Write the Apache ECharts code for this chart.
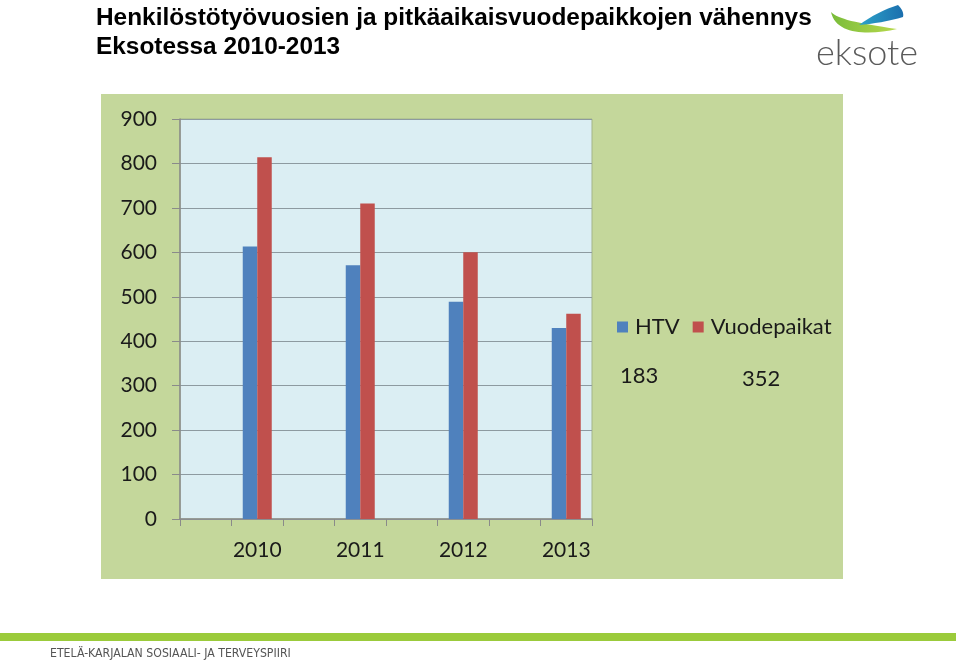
<!DOCTYPE html>
<html>
<head>
<meta charset="utf-8">
<script src="https://cdn.jsdelivr.net/npm/echarts@6/dist/echarts.min.js"></script>
<style>
html,body{margin:0;padding:0;background:#fff;}
#chart{width:960px;height:660px;}
</style>
</head>
<body>
<div id="chart"></div>
<script>
const categories = ['', '2010', '', '2011', '', '2012', '', '2013'];
const htv = [null, 613, null, 571, null, 489, null, 430];
const vuodepaikat = [null, 814, null, 710, null, 600, null, 462];
const seriesNames = ['HTV', 'Vuodepaikat'];
const reductions = ['183', '352'];
const yTicks = { min: 0, max: 900, interval: 100 };
const titleLines = ['Henkilöstötyövuosien ja pitkäaikaisvuodepaikkojen vähennys', 'Eksotessa 2010-2013'];
const footerText = 'ETELÄ-KARJALAN SOSIAALI- JA TERVEYSPIIRI';

// logo swoosh shapes (decoration)
const GreenSwoosh = echarts.graphic.extendShape({
  shape: {},
  buildPath: function (ctx) {
    ctx.moveTo(831, 12);
    ctx.bezierCurveTo(838, 19, 856, 23, 897, 29);
    ctx.bezierCurveTo(872, 35, 836, 36, 831, 12);
    ctx.closePath();
  }
});
const BlueSwoosh = echarts.graphic.extendShape({
  shape: {},
  buildPath: function (ctx) {
    ctx.moveTo(859, 25);
    ctx.bezierCurveTo(871, 16, 885, 9, 898, 5);
    ctx.bezierCurveTo(902, 9, 904, 13, 903, 17);
    ctx.bezierCurveTo(890, 21, 872, 24, 859, 25);
    ctx.closePath();
  }
});
echarts.graphic.registerShape('greenSwoosh', GreenSwoosh);
echarts.graphic.registerShape('blueSwoosh', BlueSwoosh);

const chart = echarts.init(document.getElementById('chart'));
const F = 'Lato, "Open Sans", sans-serif';
chart.setOption({
  animation: false,
  backgroundColor: '#ffffff',
  title: {
    text: titleLines.join('\n'),
    left: 91, top: -1,
    textStyle: { fontFamily: 'Liberation Sans, Arial, sans-serif', fontWeight: 'bold', fontSize: 24.4, lineHeight: 29, color: '#000' }
  },
  legend: {
    left: 612, top: 311,
    itemWidth: 11, itemHeight: 11, itemGap: 13,
    icon: 'rect',
    data: seriesNames,
    textStyle: { fontFamily: F, fontSize: 22, color: '#1a1a1a', padding: [0, 0, 0, 2] }
  },
  grid: {
    left: 180, top: 119, width: 412, height: 400,
    show: true, backgroundColor: '#DBEEF3', borderColor: '#a3b58a', borderWidth: 1
  },
  xAxis: {
    type: 'category',
    data: categories,
    boundaryGap: true,
    axisLine: { lineStyle: { color: '#8a8a8a', width: 1.5 } },
    axisTick: { show: true, interval: 0, length: 7, lineStyle: { color: '#8a8a8a' } },
    axisLabel: { interval: 0, fontFamily: F, fontSize: 21, color: '#1a1a1a', margin: 21 }
  },
  yAxis: {
    type: 'value',
    min: yTicks.min, max: yTicks.max, interval: yTicks.interval,
    axisLine: { show: true, lineStyle: { color: '#8a8a8a', width: 1.5 } },
    axisTick: { show: true, length: 8, lineStyle: { color: '#8a8a8a' } },
    axisLabel: { fontFamily: F, fontSize: 21, color: '#1a1a1a', margin: 23 },
    splitLine: { lineStyle: { color: '#8d9aa0', width: 1 } }
  },
  series: [
    { name: seriesNames[0], type: 'bar', data: htv, barWidth: 14.5, barGap: '0%', itemStyle: { color: '#4F81BD' } },
    { name: seriesNames[1], type: 'bar', data: vuodepaikat, barWidth: 14.5, barGap: '0%', itemStyle: { color: '#C0504D' } }
  ],
  graphic: [
    { type: 'rect', z: -100, shape: { x: 101, y: 94, width: 742, height: 485 }, style: { fill: '#C4D79B' }, silent: true },
    { type: 'text', x: 620, y: 365, style: { text: reductions[0], font: '22px ' + F, fill: '#1a1a1a' } },
    { type: 'text', x: 742, y: 368, style: { text: reductions[1], font: '22px ' + F, fill: '#1a1a1a' } },
    { type: 'rect', shape: { x: 0, y: 633, width: 956, height: 8 }, style: { fill: '#9BCB3B' } },
    { type: 'text', x: 50, y: 648, style: { text: footerText, font: '12.2px "Liberation Sans Narrow", "DejaVu Sans Condensed", sans-serif', fill: '#555555' } },
    { type: 'greenSwoosh', shape: {},
      style: { fill: new echarts.graphic.LinearGradient(0, 0, 1, 0, [{ offset: 0, color: '#79BC3A' }, { offset: 1, color: '#B8D94C' }]) } },
    { type: 'blueSwoosh', shape: {},
      style: { fill: new echarts.graphic.LinearGradient(0, 0, 1, 0, [{ offset: 0, color: '#2CA3C9' }, { offset: 1, color: '#1B6FAE' }]) } },
    { type: 'text', x: 816, y: 35, style: { text: 'eksote', font: '300 36px ' + F, fill: '#5a5a5a' } }
  ]
});
</script>
</body>
</html>
